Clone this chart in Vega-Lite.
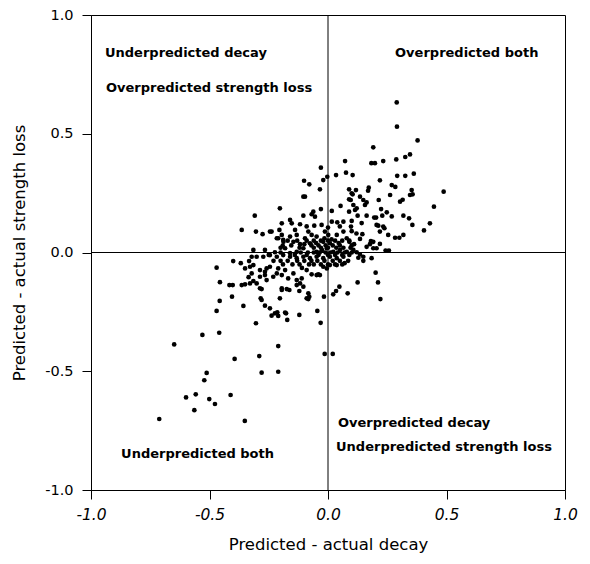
{
"$schema": "https://vega.github.io/schema/vega-lite/v6.json",
"width": 474, "height": 475,
"autosize": {"type": "none"},
"padding": {"left": 91, "top": 15, "right": 25, "bottom": 74},
"background": "white",
"config": {"view": {"stroke": "black", "strokeWidth": 1}, "font": "DejaVu Sans"},
"datasets": {
"pts": [
{"x":0.29,"y":0.632},{"x":0.291,"y":0.53},{"x":0.378,"y":0.472},{"x":0.191,"y":0.443},{"x":0.183,"y":0.376},{"x":0.198,"y":0.376},{"x":0.233,"y":0.385},{"x":0.288,"y":0.392},{"x":0.326,"y":0.402},{"x":0.346,"y":0.413},
{"x":0.104,"y":0.326},{"x":0.292,"y":0.323},{"x":0.326,"y":0.323},{"x":0.362,"y":0.332},{"x":0.219,"y":0.304},{"x":0.269,"y":0.284},{"x":0.284,"y":0.276},{"x":0.488,"y":0.256},{"x":0.172,"y":0.273},{"x":0.169,"y":0.26},
{"x":0.118,"y":0.263},{"x":0.104,"y":0.245},{"x":0.353,"y":0.263},{"x":0.357,"y":0.245},{"x":0.346,"y":0.242},{"x":0.262,"y":0.242},{"x":0.135,"y":0.235},{"x":0.149,"y":0.221},{"x":0.163,"y":0.211},{"x":0.156,"y":0.2},
{"x":0.304,"y":0.214},{"x":0.315,"y":0.222},{"x":0.214,"y":0.221},{"x":0.447,"y":0.193},{"x":0.107,"y":0.2},{"x":0.121,"y":0.186},{"x":0.224,"y":0.183},{"x":0.248,"y":0.169},{"x":0.269,"y":0.152},{"x":0.229,"y":0.155},
{"x":0.318,"y":0.155},{"x":0.342,"y":0.144},{"x":0.125,"y":0.155},{"x":0.163,"y":0.155},{"x":0.195,"y":0.147},{"x":0.203,"y":0.147},{"x":0.1,"y":0.133},{"x":0.097,"y":0.109},{"x":0.142,"y":0.124},{"x":0.43,"y":0.123},
{"x":0.405,"y":0.093},{"x":0.356,"y":0.116},{"x":0.205,"y":0.116},{"x":0.212,"y":0.113},{"x":0.233,"y":0.109},{"x":0.238,"y":0.102},{"x":0.219,"y":0.088},{"x":0.145,"y":0.077},{"x":0.135,"y":0.057},{"x":0.254,"y":0.074},
{"x":0.283,"y":0.062},{"x":0.301,"y":0.062},{"x":0.318,"y":0.074},{"x":0.181,"y":0.048},{"x":0.191,"y":0.045},{"x":0.177,"y":0.035},{"x":0.219,"y":0.036},{"x":0.163,"y":0.024},{"x":0.191,"y":0.018},{"x":0.205,"y":0.018},
{"x":0.243,"y":0.008},{"x":0.257,"y":0.008},{"x":0.107,"y":0.011},{"x":0.121,"y":0.001},{"x":0.135,"y":-0.008},{"x":0.149,"y":-0.018},{"x":0.184,"y":-0.024},{"x":0.128,"y":-0.022},{"x":0.149,"y":-0.035},{"x":0.201,"y":-0.085},
{"x":0.125,"y":-0.126},{"x":0.211,"y":-0.126},{"x":0.221,"y":-0.196},{"x":0.072,"y":0.385},{"x":-0.03,"y":0.357},{"x":0.076,"y":0.336},{"x":0.034,"y":0.326},{"x":-0.003,"y":0.319},{"x":-0.101,"y":0.302},{"x":-0.079,"y":0.287},
{"x":-0.02,"y":0.305},{"x":-0.034,"y":0.266},{"x":0.089,"y":0.266},{"x":-0.104,"y":0.235},{"x":-0.097,"y":0.235},{"x":0.089,"y":0.224},{"x":0.053,"y":0.196},{"x":-0.203,"y":0.186},{"x":-0.03,"y":0.183},{"x":0.016,"y":0.175},
{"x":0.089,"y":0.172},{"x":-0.309,"y":0.155},{"x":-0.062,"y":0.172},{"x":-0.069,"y":0.161},{"x":-0.055,"y":0.151},{"x":-0.104,"y":0.155},{"x":-0.16,"y":0.137},{"x":-0.195,"y":0.123},{"x":-0.153,"y":0.123},{"x":-0.118,"y":0.119},
{"x":-0.027,"y":0.116},{"x":-0.058,"y":0.113},{"x":0.016,"y":0.13},{"x":0.039,"y":0.127},{"x":0.065,"y":0.13},{"x":-0.304,"y":0.088},{"x":-0.276,"y":0.077},{"x":-0.238,"y":0.088},{"x":-0.205,"y":0.095},{"x":-0.21,"y":0.06},
{"x":-0.188,"y":0.045},{"x":-0.191,"y":0.029},{"x":-0.139,"y":0.095},{"x":-0.132,"y":0.074},{"x":-0.083,"y":0.088},{"x":-0.069,"y":0.074},{"x":-0.097,"y":0.06},{"x":-0.048,"y":0.067},{"x":-0.013,"y":0.088},{"x":0.001,"y":0.074},
{"x":-0.02,"y":0.045},{"x":0.008,"y":0.039},{"x":0.037,"y":0.074},{"x":0.065,"y":0.088},{"x":0.079,"y":0.06},{"x":-0.146,"y":0.045},{"x":-0.118,"y":0.035},{"x":-0.076,"y":0.039},{"x":-0.104,"y":0.018},{"x":-0.315,"y":0.011},
{"x":-0.266,"y":0.011},{"x":-0.224,"y":0.001},{"x":-0.181,"y":0.018},{"x":-0.16,"y":-0.003},{"x":-0.132,"y":0.003},{"x":-0.048,"y":0.003},{"x":-0.005,"y":0.018},{"x":0.022,"y":0.003},{"x":0.051,"y":0.011},{"x":0.079,"y":0.003},
{"x":-0.364,"y":0.095},
{"x":-0.322,"y":-0.018},{"x":-0.301,"y":-0.018},{"x":-0.273,"y":-0.018},{"x":-0.245,"y":-0.011},{"x":-0.216,"y":-0.018},{"x":-0.189,"y":-0.011},{"x":-0.16,"y":-0.018},{"x":-0.132,"y":-0.024},{"x":-0.104,"y":-0.018},{"x":-0.076,"y":-0.024},
{"x":-0.048,"y":-0.018},{"x":-0.02,"y":-0.024},{"x":0.008,"y":-0.018},{"x":0.037,"y":-0.024},{"x":0.065,"y":-0.018},
{"x":-0.315,"y":-0.053},{"x":-0.287,"y":-0.074},{"x":-0.259,"y":-0.067},{"x":-0.266,"y":-0.095},{"x":-0.245,"y":-0.06},{"x":-0.21,"y":-0.067},{"x":-0.216,"y":-0.088},{"x":-0.195,"y":-0.095},{"x":-0.181,"y":-0.074},{"x":-0.168,"y":-0.109},
{"x":-0.146,"y":-0.088},{"x":-0.132,"y":-0.116},{"x":-0.111,"y":-0.109},{"x":-0.118,"y":-0.13},{"x":-0.09,"y":-0.074},{"x":-0.069,"y":-0.092},{"x":-0.041,"y":-0.092},{"x":-0.005,"y":-0.067},{"x":0.008,"y":-0.053},{"x":0.037,"y":-0.053},
{"x":-0.329,"y":-0.13},{"x":-0.315,"y":-0.12},{"x":-0.28,"y":-0.154},{"x":-0.195,"y":-0.151},{"x":-0.174,"y":-0.154},{"x":-0.121,"y":-0.162},{"x":-0.284,"y":-0.193},{"x":-0.203,"y":-0.193},{"x":-0.266,"y":-0.224},{"x":-0.079,"y":-0.186},
{"x":-0.083,"y":-0.196},{"x":-0.017,"y":-0.186},{"x":0.022,"y":-0.176},{"x":0.048,"y":-0.144},{"x":0.034,"y":-0.162},{"x":0.083,"y":-0.172},{"x":-0.238,"y":-0.266},{"x":-0.214,"y":-0.252},{"x":-0.21,"y":-0.267},{"x":-0.177,"y":-0.256},
{"x":-0.172,"y":-0.284},{"x":-0.121,"y":-0.263},{"x":-0.045,"y":-0.246},{"x":-0.031,"y":-0.296},{"x":-0.304,"y":-0.298},{"x":-0.21,"y":-0.394},{"x":-0.29,"y":-0.436},{"x":-0.014,"y":-0.427},{"x":0.02,"y":-0.427},{"x":-0.28,"y":-0.506},
{"x":-0.21,"y":-0.502},
{"x":-0.4,"y":-0.036},{"x":-0.368,"y":-0.045},{"x":-0.35,"y":-0.067},{"x":-0.333,"y":-0.036},{"x":-0.335,"y":-0.104},{"x":-0.47,"y":-0.064},{"x":-0.456,"y":-0.125},{"x":-0.416,"y":-0.137},{"x":-0.402,"y":-0.137},{"x":-0.364,"y":-0.137},
{"x":-0.35,"y":-0.134},{"x":-0.405,"y":-0.186},{"x":-0.457,"y":-0.204},{"x":-0.47,"y":-0.246},{"x":-0.357,"y":-0.225},{"x":-0.53,"y":-0.347},{"x":-0.459,"y":-0.338},{"x":-0.649,"y":-0.387},{"x":-0.394,"y":-0.448},{"x":-0.512,"y":-0.507},
{"x":-0.522,"y":-0.538},{"x":-0.558,"y":-0.597},{"x":-0.599,"y":-0.61},{"x":-0.501,"y":-0.617},{"x":-0.477,"y":-0.638},{"x":-0.411,"y":-0.6},{"x":-0.564,"y":-0.664},{"x":-0.712,"y":-0.701},{"x":-0.351,"y":-0.709},
{"x":-0.245,"y":0.088},{"x":-0.195,"y":0.074},{"x":-0.216,"y":0.06},{"x":-0.189,"y":0.053},{"x":-0.16,"y":0.067},{"x":-0.329,"y":-0.06},{"x":-0.322,"y":-0.088},{"x":-0.287,"y":-0.102},{"x":-0.266,"y":-0.081},{"x":-0.259,"y":-0.116},
{"x":-0.231,"y":-0.102},{"x":-0.301,"y":-0.13},{"x":-0.287,"y":-0.151},{"x":-0.28,"y":-0.2},{"x":-0.245,"y":-0.235},{"x":-0.224,"y":-0.256},{"x":-0.181,"y":-0.253},{"x":-0.195,"y":-0.158},{"x":-0.163,"y":-0.158},{"x":-0.104,"y":-0.144},
{"x":-0.083,"y":-0.172},{"x":-0.09,"y":-0.193},{"x":-0.132,"y":-0.137},{"x":-0.048,"y":-0.095},{"x":-0.034,"y":-0.095},{"x":0.1,"y":0.249},{"x":0.096,"y":0.221},{"x":0.114,"y":0.179},
{"x":-0.17,"y":0.05},{"x":-0.13,"y":0.05},{"x":-0.09,"y":0.05},{"x":-0.06,"y":0.05},{"x":-0.03,"y":0.05},{"x":0.0,"y":0.05},{"x":0.03,"y":0.05},{"x":0.06,"y":0.05},{"x":0.09,"y":0.05},
{"x":-0.155,"y":0.03},{"x":-0.07,"y":0.03},{"x":-0.04,"y":0.03},{"x":-0.01,"y":0.03},{"x":0.02,"y":0.03},{"x":0.05,"y":0.03},{"x":0.1,"y":0.03},
{"x":-0.2,"y":0.02},{"x":-0.12,"y":0.02},{"x":-0.06,"y":0.02},{"x":-0.03,"y":0.02},{"x":0.0,"y":0.02},{"x":0.035,"y":0.02},{"x":0.065,"y":0.02},{"x":0.095,"y":0.02},
{"x":-0.2,"y":0.0},{"x":-0.115,"y":0.0},{"x":-0.085,"y":0.0},{"x":-0.06,"y":0.0},{"x":-0.035,"y":0.0},{"x":-0.01,"y":0.0},{"x":0.01,"y":0.0},{"x":0.04,"y":0.0},{"x":0.07,"y":0.0},{"x":0.1,"y":0.0},
{"x":-0.25,"y":-0.01},{"x":-0.14,"y":-0.01},{"x":-0.09,"y":-0.01},{"x":-0.04,"y":-0.01},{"x":0.0,"y":-0.01},{"x":0.03,"y":-0.01},{"x":0.06,"y":-0.01},{"x":0.09,"y":-0.01},
{"x":-0.23,"y":-0.035},{"x":-0.2,"y":-0.035},{"x":-0.17,"y":-0.035},{"x":-0.13,"y":-0.035},{"x":-0.1,"y":-0.035},{"x":-0.07,"y":-0.035},{"x":-0.045,"y":-0.035},{"x":-0.015,"y":-0.035},{"x":0.02,"y":-0.035},{"x":0.05,"y":-0.035},{"x":0.085,"y":-0.035},
{"x":-0.19,"y":-0.05},{"x":-0.15,"y":-0.05},{"x":-0.12,"y":-0.05},{"x":-0.06,"y":-0.05},{"x":-0.03,"y":-0.05},{"x":0.0,"y":-0.05},{"x":0.03,"y":-0.05},{"x":0.06,"y":-0.05},
{"x":-0.09,"y":0.11},{"x":0.0,"y":0.105},{"x":0.05,"y":0.11},{"x":0.1,"y":0.09},{"x":0.09,"y":0.045},{"x":0.11,"y":0.035},{"x":0.12,"y":0.08},
{"x":-0.05,"y":0.04},{"x":-0.015,"y":0.06},{"x":0.015,"y":0.055},{"x":-0.1,"y":0.035},{"x":-0.025,"y":0.01},{"x":0.045,"y":0.04},{"x":-0.11,"y":-0.065},{"x":-0.08,"y":-0.05},{"x":-0.02,"y":-0.06},{"x":0.07,"y":-0.045}
],
"labels": [
{"x":-0.941,"y":0.823,"t":"Underpredicted decay"},
{"x":-0.937,"y":0.676,"t":"Overpredicted strength loss"},
{"x":0.283,"y":0.823,"t":"Overpredicted both"},
{"x":-0.873,"y":-0.865,"t":"Underpredicted both"},
{"x":0.042,"y":-0.735,"t":"Overpredicted decay"},
{"x":0.034,"y":-0.836,"t":"Underpredicted strength loss"}
],
"zero": [{"v":0}]
},
"layer": [
{"data": {"name": "zero"}, "mark": {"type": "rule", "color": "black", "strokeWidth": 1}, "encoding": {"x": {"field": "v", "type": "quantitative", "scale": {"domain": [-1, 1]}}}},
{"data": {"name": "zero"}, "mark": {"type": "rule", "color": "black", "strokeWidth": 1}, "encoding": {"y": {"field": "v", "type": "quantitative", "scale": {"domain": [-1, 1]}}}},
{"data": {"name": "pts"}, "mark": {"type": "circle", "color": "black", "size": 22, "opacity": 1},
 "encoding": {
  "x": {"field": "x", "type": "quantitative", "scale": {"domain": [-1, 1], "nice": false, "zero": false},
    "axis": {"title": "Predicted - actual decay", "values": [-1, -0.5, 0, 0.5, 1], "format": ".1f", "labelExpr": "replace(datum.label, '\u2212', '-')", "grid": false,
      "domainColor": "black", "tickColor": "black", "tickSize": 9, "labelPadding": 8, "labelFontSize": 15.5, "labelFontStyle": "italic",
      "labelColor": "black", "labelFont": "DejaVu Sans", "titleFont": "DejaVu Sans", "titleFontSize": 16.5, "titleFontWeight": "normal", "titleColor": "black", "titlePadding": 14, "labelFlush": false}},
  "y": {"field": "y", "type": "quantitative", "scale": {"domain": [-1, 1], "nice": false, "zero": false},
    "axis": {"title": "Predicted - actual strength loss", "values": [-1, -0.5, 0, 0.5, 1], "format": ".1f", "labelExpr": "replace(datum.label, '\u2212', '-')", "grid": false,
      "domainColor": "black", "tickColor": "black", "tickSize": 9, "labelPadding": 9, "labelFontSize": 14.5,
      "labelColor": "black", "labelFont": "DejaVu Sans", "titleFont": "DejaVu Sans", "titleFontSize": 16.5, "titleFontWeight": "normal", "titleColor": "black", "titlePadding": 17, "labelFlush": false}}
 }},
{"data": {"name": "labels"}, "mark": {"type": "text", "align": "left", "baseline": "alphabetic", "font": "DejaVu Sans", "fontWeight": "bold", "fontSize": 13, "color": "black"},
 "encoding": {"x": {"field": "x", "type": "quantitative"}, "y": {"field": "y", "type": "quantitative"}, "text": {"field": "t"}}}
]
}
